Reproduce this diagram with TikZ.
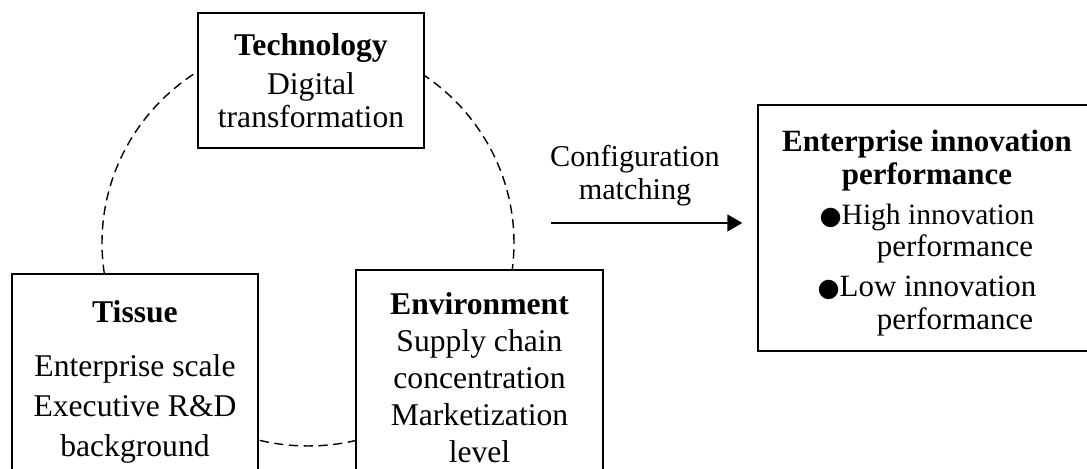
\documentclass[tikz,border=0pt]{standalone}
\usepackage{fontspec}
\setmainfont{Liberation Serif}
\newfontfamily\dotfont{DejaVu Sans}
\newcommand{\bigdot}{{\dotfont\fontsize{7.2}{9}\selectfont ●}}
\usetikzlibrary{arrows.meta}

\begin{document}
\begin{tikzpicture}[
  factor/.style={draw,fill=white,line width=0.4pt,align=center,inner sep=0pt},
  ring/.style={line width=0.4pt,dash pattern=on 2.6pt off 1.6pt},
  flow/.style={line width=0.4pt,-{Triangle[length=0.15cm,width=0.17cm]}}
]
\useasboundingbox (0,0) rectangle (10.87,4.69);
\clip (0,0) rectangle (10.87,4.69);

%%%Dashed ring through the three conditions
\draw[ring] (3.08,2.26) ellipse (2.06cm and 2.03cm);

%%%Condition boxes: technology, tissue, environment
\node[factor,minimum width=2.26cm,minimum height=1.35cm,font=\fontsize{9}{9.4}\selectfont] (tech) at (3.11,3.885)
  {\textbf{Technology}\\[1.7pt] Digital\\ transformation};
\node[factor,minimum width=2.46cm,minimum height=2.16cm,font=\fontsize{9}{11.4}\selectfont] (tissue) at (1.35,0.87)
  {\textbf{Tissue}\\[4pt] Enterprise scale\\ Executive R\&D\\ background};
\node[factor,minimum width=2.47cm,minimum height=2.16cm,font=\fontsize{9}{10.5}\selectfont] (env) at (4.795,0.91)
  {\textbf{Environment}\\ Supply chain\\ concentration\\ Marketization\\ level};

%%%Outcome box
\node[factor,minimum width=3.38cm,minimum height=2.46cm,font=\fontsize{8.8}{9.3}\selectfont] (res) at (9.27,2.41)
  {\rule{0pt}{9pt}\textbf{Enterprise innovation}\\ \textbf{performance}\\[2pt]
   \fontsize{8.4}{9.3}\selectfont \bigdot High innovation\\ \hspace*{0.56cm}performance\\[2pt]
   \bigdot Low innovation\\ \hspace*{0.56cm}performance};

%%%Arrow and label
\node[align=center,font=\fontsize{8.6}{9.4}\selectfont] (cfg) at (6.35,2.935) {Configuration\\ matching};
\coordinate (cfgtail) at (5.51,2.46);
\draw[flow,shorten >=0.15cm] (cfgtail) -- (cfgtail -| res.west);

\end{tikzpicture}
\end{document}
